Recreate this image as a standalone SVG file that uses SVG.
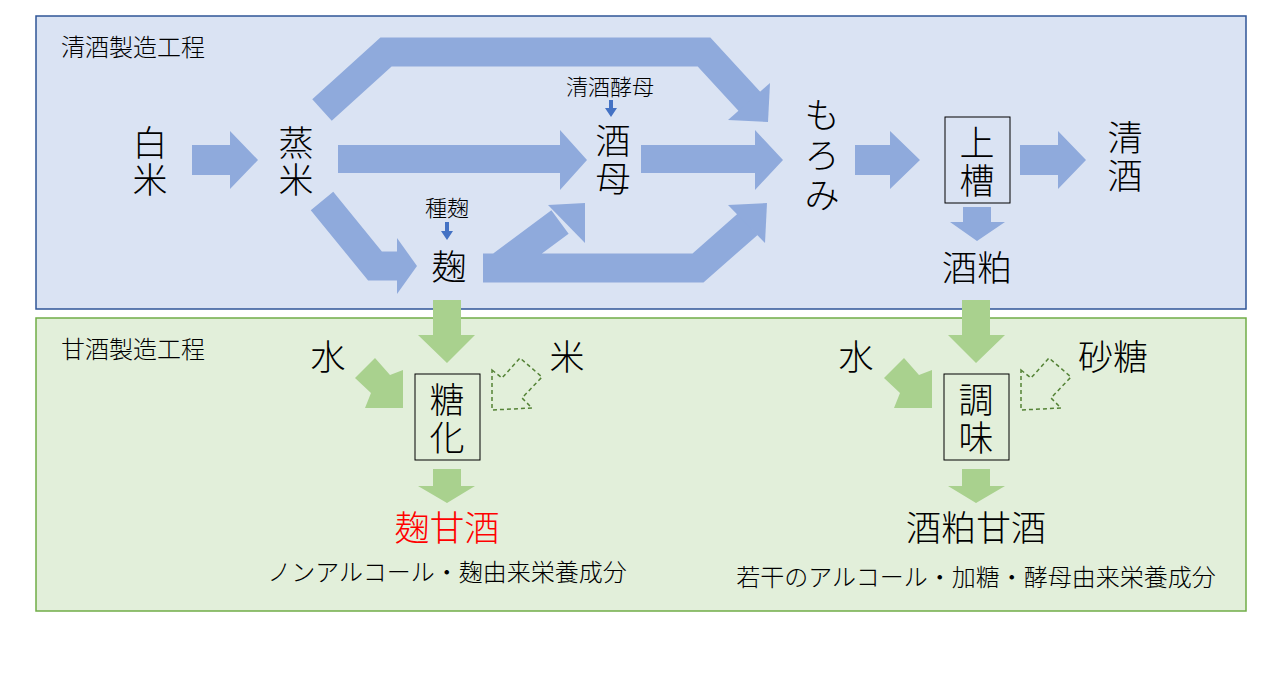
<svg xmlns="http://www.w3.org/2000/svg" width="1280" height="688" viewBox="0 0 1280 688">
<style>
text{font-family:"Noto Sans CJK JP","Noto Sans CJK SC",sans-serif;fill:#000;text-anchor:middle;font-weight:300}
.b{font-size:35px}.s{font-size:22px}.m{font-size:24px}.l{text-anchor:start;font-size:24px}
.bl{fill:#8faadc}.bs{fill:none;stroke:#8faadc;stroke-width:29;stroke-linejoin:miter}
.g{fill:#a9d18e}.d{fill:none;stroke:#548235;stroke-width:1.5;stroke-dasharray:4 3}
.box{fill:none;stroke:#000;stroke-width:1}
</style>
<rect x="0" y="0" width="1280" height="688" fill="#fff"/>
<g id="panel-top"><rect x="36" y="16" width="1210" height="293" fill="#dae3f3" stroke="#2f5597" stroke-width="1.5"/><text class="l" x="61" y="56">清酒製造工程</text></g>
<g id="panel-bottom"><rect x="36" y="318" width="1210" height="293" fill="#e2efda" stroke="#70ad47" stroke-width="1.5"/><text class="l" x="61" y="358">甘酒製造工程</text></g>
<g id="connectors">
<polygon class="bl" points="192,145 230,145 230,131 258,160 230,189 230,175 192,175"/>
<polygon class="bl" points="338,145 560,145 560,130 587,160 560,190 560,173 338,173"/>
<polygon class="bl" points="641,145 755,145 755,130 783,160 755,190 755,173 641,173"/>
<polygon class="bl" points="855,145 890,145 890,131 920,160 890,189 890,175 855,175"/>
<polygon class="bl" points="1020,145 1058,145 1058,131 1086,160 1058,189 1058,175 1020,175"/>
<path class="bs" d="M322,110 L386,52 L704,52 L750,102"/>
<polygon class="bl" points="770,83 768,122 728,120"/>
<path class="bs" d="M322,201 L375,266 L398,266"/>
<polygon class="bl" points="397,238 397,294 417,266"/>
<path class="bs" d="M483,268 L698,268 L748,224 M498,268 L560,222"/>
<polygon class="bl" points="548,205 585,203 585,243"/>
<polygon class="bl" points="728,205 767,203 765,243"/>
<polygon class="bl" points="963,207 991,207 991,222 1005,222 977,241 950,222 963,222"/>
<polygon fill="#4472c4" points="609,100 613,100 613,108 617,108 611,117 605,108 609,108"/>
<polygon fill="#4472c4" points="445,222 449,222 449,231 453,231 447,240 441,231 445,231"/>
<g id="green">
<polygon class="g" points="433,300 461,300 461,335 475,335 447,363 418,335 433,335"/>
<polygon class="g" points="962,300 990,300 990,335 1005,335 976,363 948,335 962,335"/>
<polygon class="g" points="433,469 461,469 461,486 475,486 447,503 418,486 433,486"/>
<polygon class="g" points="962,469 990,469 990,486 1005,486 976,503 948,486 962,486"/>
<polygon class="g" points="355,378 375,358 390,375 403,370 403,408 365,408 371,393"/>
<polygon class="g" points="884,378 904,358 919,375 932,370 932,408 894,408 900,393"/>
<polygon class="d" points="492,370 502,378 520,358 542,377 522,398 532,408 492,410"/>
<polygon class="d" points="1021,370 1031,378 1049,358 1071,377 1051,398 1061,408 1021,410"/>
</g>
</g>
<g id="n-hakumai"><text class="b" x="150" y="156">白</text><text class="b" x="150" y="193">米</text></g>
<g id="n-mushimai"><text class="b" x="296" y="156">蒸</text><text class="b" x="296" y="193">米</text></g>
<g id="n-shubo"><text class="s" x="610" y="95">清酒酵母</text><text class="b" x="613" y="154">酒</text><text class="b" x="613" y="192">母</text></g>
<g id="n-koji"><text class="s" x="447" y="216">種麹</text><text class="b" x="449" y="280">麹</text></g>
<g id="n-moromi"><text class="b" x="822" y="128">も</text><text class="b" x="822" y="168">ろ</text><text class="b" x="822" y="208">み</text></g>
<g id="n-joso"><rect class="box" x="945" y="117" width="65" height="86"/><text class="b" x="977" y="156">上</text><text class="b" x="977" y="194">槽</text></g>
<g id="n-seishu"><text class="b" x="1125" y="151">清</text><text class="b" x="1125" y="189">酒</text></g>
<g id="n-sakekasu"><text class="b" x="977" y="281">酒粕</text></g>
<g id="n-mizu1"><text class="b" x="328" y="370">水</text></g>
<g id="n-kome"><text class="b" x="567" y="370">米</text></g>
<g id="n-toka"><rect class="box" x="415" y="374" width="65" height="86"/><text class="b" x="447" y="413">糖</text><text class="b" x="447" y="451">化</text></g>
<g id="n-kojiamazake"><text class="b" x="447" y="541" style="fill:#ff0000">麹甘酒</text><text class="m" x="447" y="581">ノンアルコール・麹由来栄養成分</text></g>
<g id="n-mizu2"><text class="b" x="856" y="370">水</text></g>
<g id="n-sato"><text class="b" x="1113" y="370">砂糖</text></g>
<g id="n-chomi"><rect class="box" x="944" y="374" width="65" height="86"/><text class="b" x="976" y="413">調</text><text class="b" x="976" y="451">味</text></g>
<g id="n-kasuamazake"><text class="b" x="976" y="541">酒粕甘酒</text><text class="m" x="976" y="586">若干のアルコール・加糖・酵母由来栄養成分</text></g>
</svg>
